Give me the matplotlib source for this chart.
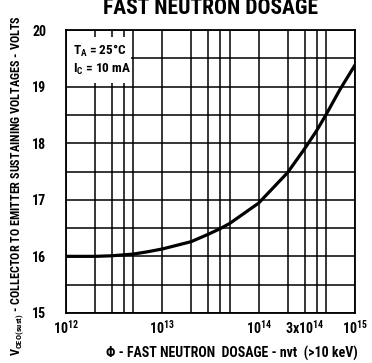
import matplotlib
matplotlib.use("Agg")
import matplotlib.pyplot as plt
from matplotlib.patches import Rectangle
from matplotlib.ticker import FixedLocator, LogLocator, NullFormatter
import numpy as np

# Data
dosage = [1e12, 2e12, 3e12, 5e12, 7e12, 1e13, 2e13, 3e13, 4e13, 5e13,
          1e14, 2e14, 3e14, 4e14, 5e14, 7e14, 1e15]
vceo = [16.0, 16.0, 16.01, 16.04, 16.08, 16.13, 16.26, 16.39, 16.49, 16.58,
        16.94, 17.48, 17.9, 18.22, 18.5, 18.95, 19.38]

xtick_vals = [1e12, 1e13, 1e14, 3e14, 1e15]
xtick_labels = [r"10$^{\mathregular{12}}$", r"10$^{\mathregular{13}}$",
                r"10$^{\mathregular{14}}$", r"3x10$^{\mathregular{14}}$",
                r"10$^{\mathregular{15}}$"]
ytick_vals = [15, 16, 17, 18, 19, 20]

title = "FAST NEUTRON DOSAGE"
xlabel = "\u03a6 - FAST NEUTRON  DOSAGE - nvt  (>10 keV)"
ylabel = r"V$_{\mathregular{CEO(sust)}}$ - COLLECTOR TO EMITTER SUSTAINING VOLTAGES - VOLTS"
note = "T$_{\\mathregular{A}}$ = 25\u00b0C\nI$_{\\mathregular{C}}$ = 10 mA"

FAM = ["Roboto Condensed", "DejaVu Sans"]
plt.rcParams["font.family"] = FAM
plt.rcParams["mathtext.fontset"] = "custom"
plt.rcParams["mathtext.rm"] = "Roboto Condensed:bold"
plt.rcParams["mathtext.it"] = "Roboto Condensed:bold"
plt.rcParams["mathtext.bf"] = "Roboto Condensed:bold"

fig = plt.figure(figsize=(3.72, 3.63), dpi=100)
ax = fig.add_axes([0.177, 0.138, 0.777, 0.779])

ax.set_xscale("log")
ax.set_xlim(1e12, 1e15)
ax.set_ylim(15, 20)

ax.xaxis.set_major_locator(FixedLocator(xtick_vals))
ax.set_xticklabels(xtick_labels, fontsize=10, fontweight="bold")
ax.xaxis.set_minor_locator(LogLocator(base=10, subs=(2, 3, 4, 5)))
ax.xaxis.set_minor_formatter(NullFormatter())
ax.set_yticks(ytick_vals)
ax.set_yticklabels([str(v) for v in ytick_vals], fontsize=10, fontweight="bold")
ax.set_yticks(np.arange(15.5, 20, 1.0), minor=True)

ax.tick_params(which="both", length=0)
ax.tick_params(axis="x", pad=4)
ax.tick_params(axis="y", pad=14)

ax.grid(True, which="both", color="black", linewidth=1.1)
for s in ax.spines.values():
    s.set_linewidth(1.3)

ax.plot(dosage, vceo, color="black", linewidth=2.3, zorder=4)

ax.add_patch(Rectangle((0.004, 0.813), 0.222, 0.162, transform=ax.transAxes,
                       facecolor="white", edgecolor="none", zorder=3))
ax.text(0.025, 0.955, note, transform=ax.transAxes, fontsize=9.5,
        fontweight="bold", va="top", ha="left", linespacing=1.3, zorder=5)

fig.text(0.567, 0.962, title, fontsize=15.5, fontweight="bold", ha="center",
         va="baseline")
ax.set_xlabel(xlabel, fontsize=10, fontweight="bold")
ax.xaxis.set_label_coords(0.575, -0.118)
fig.text(0.048, 0.49, ylabel, rotation=90, fontsize=8.7, fontweight="bold",
         ha="center", va="center")

fig.savefig("out.png", dpi=100)
